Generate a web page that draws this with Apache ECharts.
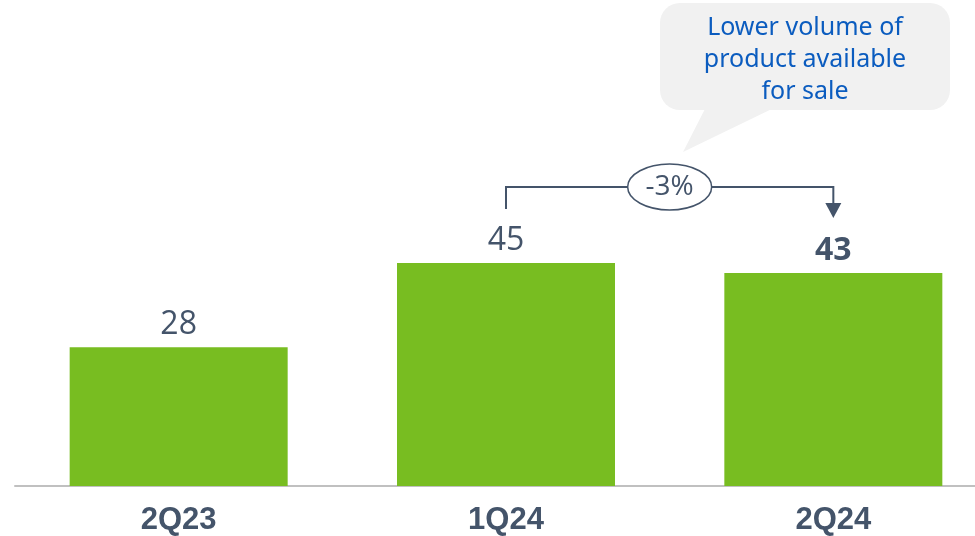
<!DOCTYPE html>
<html>
<head>
<meta charset="utf-8">
<script src="https://cdn.jsdelivr.net/npm/echarts@6/dist/echarts.min.js"></script>
<style>html,body{margin:0;padding:0;background:#fff;overflow:hidden}#c{width:997px;height:536px}</style>
</head>
<body>
<div id="c"></div>
<script>
const categories = ['2Q23', '1Q24', '2Q24'];
const values = [28, 45, 43];
const boldIndex = [2];
const changeLabel = '-3%';
const calloutText = 'Lower volume of\nproduct available\nfor sale';

const slate = '#44546a';
const chart = echarts.init(document.getElementById('c'));
chart.setOption({
  animation: false,
  grid: { left: 15, right: 0, top: 40, bottom: 47 },
  xAxis: {
    type: 'category', data: categories,
    axisLine: { lineStyle: { color: '#c0c0c0', width: 2 } },
    axisTick: { show: false },
    axisLabel: { color: slate, fontSize: 31, fontWeight: 'bold', fontFamily: 'Liberation Sans', margin: 19 }
  },
  yAxis: { type: 'value', min: 0, max: 90, show: false, splitLine: { show: false } },
  series: [{
    type: 'bar', barWidth: 218,
    itemStyle: { color: '#78bd21' },
    data: values.map((v, i) => ({
      value: v,
      label: { fontWeight: boldIndex.includes(i) ? 'bold' : 'normal' }
    })),
    label: { show: true, position: 'top', distance: 6, color: slate, fontSize: 32, fontFamily: 'Open Sans' }
  }]
});

const p1 = chart.convertToPixel({ xAxisIndex: 0, yAxisIndex: 0 }, [categories[1], values[1]]);
const p2 = chart.convertToPixel({ xAxisIndex: 0, yAxisIndex: 0 }, [categories[2], values[2]]);
const by = p1[1] - 76;
const mx = (p1[0] + p2[0]) / 2;
chart.setOption({
  graphic: [
    { type: 'polyline', shape: { points: [[p1[0], p1[1] - 54], [p1[0], by], [p2[0], by], [p2[0], p2[1] - 68]] },
      style: { stroke: slate, lineWidth: 2, fill: null } },
    { type: 'polygon', shape: { points: [[p2[0] - 8, p2[1] - 70], [p2[0] + 8, p2[1] - 70], [p2[0], p2[1] - 55]] },
      style: { fill: slate } },
    { type: 'ellipse', shape: { cx: mx, cy: by, rx: 42, ry: 23 },
      style: { fill: '#fff', stroke: slate, lineWidth: 1.5 } },
    { type: 'text', x: mx, y: by, style: { text: changeLabel, fill: slate, fontSize: 28, fontFamily: 'Open Sans', align: 'center', verticalAlign: 'middle' } },
    { type: 'polygon', shape: { points: [[707, 105], [780, 105], [683, 152]] }, style: { fill: '#f1f1f1' } },
    { type: 'rect', shape: { x: 660, y: 3, width: 290, height: 107, r: 20 }, style: { fill: '#f1f1f1' } },
    { type: 'text', x: 805, y: 60, style: { text: calloutText, fill: '#0b5cbf', fontSize: 25, lineHeight: 32, fontFamily: 'Noto Sans', align: 'center', verticalAlign: 'middle' } }
  ]
});
</script>
</body>
</html>
